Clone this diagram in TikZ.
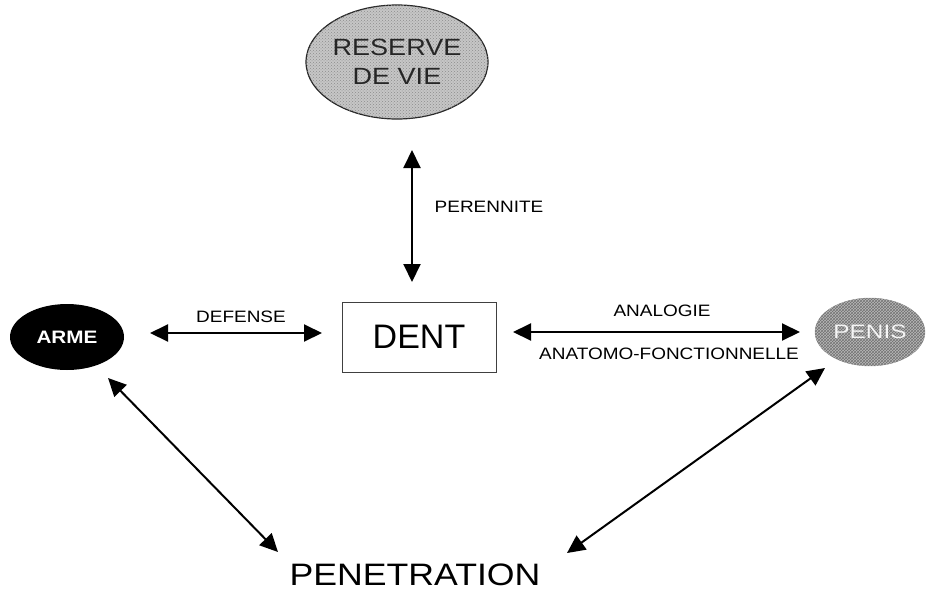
\documentclass[tikz,border=0pt]{standalone}
\usepackage{fontspec}
\setmainfont{Liberation Sans}
\newfontfamily\widefont[FakeStretch=1.15]{Liberation Sans}
\newfontfamily\xwidefont[FakeStretch=1.25]{Liberation Sans}
\usetikzlibrary{arrows.meta,shapes.geometric,patterns}
\begin{document}
\begin{tikzpicture}[x=1pt,y=-1pt,
  tip/.tip={Triangle[length=18pt,width=17pt]},
  dbl/.style={line width=2pt,tip-tip},
  lbl/.style={font=\widefont\fontsize{16.5}{16.5}\selectfont,inner sep=0pt},
  oval/.style={ellipse,inner sep=0pt}]
\useasboundingbox (0,0) rectangle (926,592);
% nodes
\node[oval,draw=black!85,line width=1.2pt,fill=gray!45,
      postaction={pattern=crosshatch dots,pattern color=black!45},
      minimum width=170pt,minimum height=114pt,align=center,
      font=\widefont\fontsize{23.5}{29}\selectfont,text=black!85] (res) at (397,62) {RESERVE\\DE VIE};
\node[draw=black!75,line width=0.8pt,minimum width=154pt,minimum height=70pt,inner sep=0pt,
      font=\fontsize{34}{34}\selectfont] (dent) at (419,337) {DENT};
\node[oval,fill=black,minimum width=114pt,minimum height=66pt,text=white,
      font=\bfseries\widefont\fontsize{18}{18}\selectfont] (arme) at (67,337) {ARME};
\node[oval,draw=gray!70,fill=gray!55,
      postaction={pattern=crosshatch,pattern color=black!55},
      minimum width=110pt,minimum height=68pt,text=gray!8,
      font=\xwidefont\fontsize{19.5}{19.5}\selectfont] (penis) at (870,332) {PENIS};
\node[inner sep=0pt,font=\widefont\fontsize{31}{31}\selectfont] (pen) at (415,575) {PENETRATION};
% connector ends
\coordinate (r1) at (412,150);
\coordinate (r2) at (412,282);
\coordinate (d1) at (150,333);
\coordinate (d2) at (322,333);
\coordinate (n1) at (513,332);
\coordinate (n2) at (800,332);
\coordinate (a1) at (108,378);
\coordinate (a2) at (278,552);
\coordinate (p1) at (825,368);
\coordinate (p2) at (567,553);
% connectors
\draw[dbl] (r1) -- (r2);
\draw[dbl] (d1) -- (d2);
\draw[dbl] (n1) -- (n2);
\draw[dbl] (a1) -- (a2);
\draw[dbl] (p1) -- (p2);
% labels
\node[lbl] (lper) at (489,207) {PERENNITE};
\node[lbl] (ldef) at (241,317) {DEFENSE};
\node[lbl] (lana) at (662,311) {ANALOGIE};
\node[lbl] (lanat) at (669,354) {ANATOMO-FONCTIONNELLE};
\end{tikzpicture}
\end{document}
